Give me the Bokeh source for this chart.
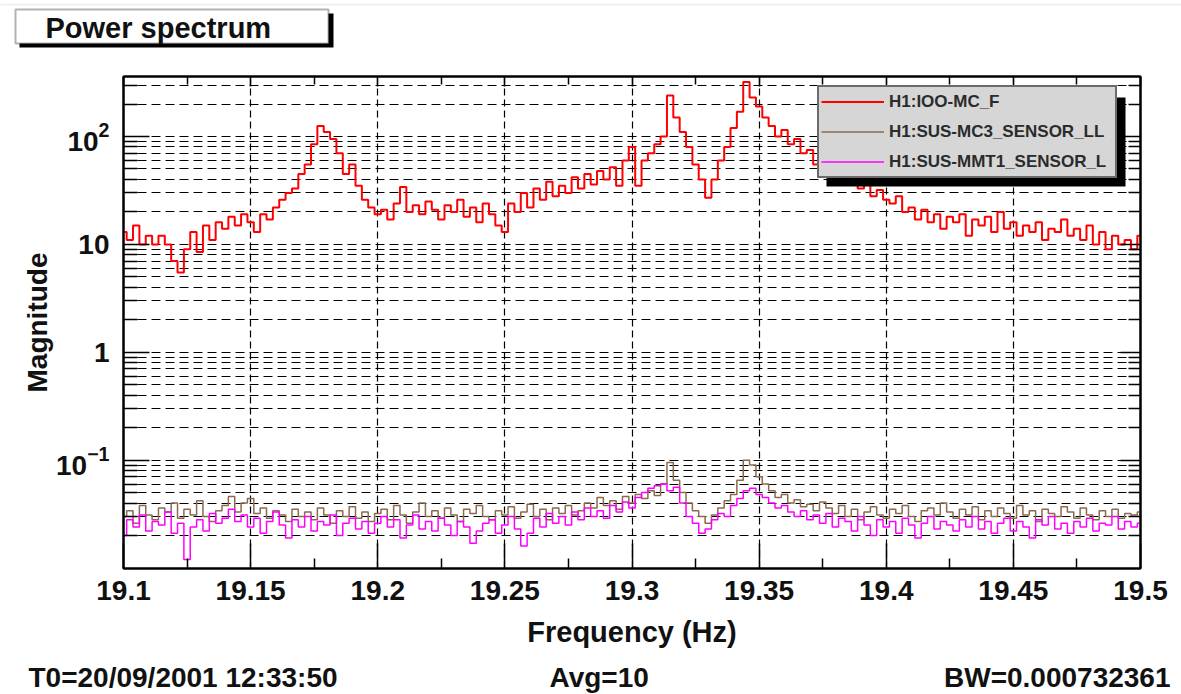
from bokeh.plotting import figure
from bokeh.layouts import column
from bokeh.models import (Range1d, LinearAxis, LogAxis, Label, BoxAnnotation, Legend,
                          LegendItem, FixedTicker, CustomJSTickFormatter, ColumnDataSource,
                          LogTickFormatter)
from bokeh.embed import file_html
from bokeh.resources import INLINE

# ---------------- data ----------------
F_START, F_STEP, N_BINS = 19.1, 0.0025, 161
freq = [round(F_START + F_STEP * i, 4) for i in range(N_BINS)]

red = [
    13, 11, 15, 10, 12, 10, 12, 10, 7, 5.5,
    9, 13, 8.5, 15, 11, 16, 14, 18, 15, 19,
    16, 13, 19, 17, 22, 26, 30, 33, 45, 55,
    85, 125, 110, 95, 70, 45, 55, 35, 26, 22,
    19, 21, 17, 24, 34, 20, 23, 19, 25, 21,
    17, 23, 20, 26, 18, 22, 16, 24, 19, 15,
    13, 24, 20, 30, 22, 33, 26, 38, 28, 35,
    30, 42, 33, 45, 36, 48, 40, 52, 35, 60,
    80, 35, 60, 70, 85, 100, 240, 150, 110, 80,
    55, 40, 27, 40, 60, 80, 120, 170, 320, 230,
    190, 150, 125, 100, 115, 85, 95, 70, 75, 55,
    60, 50, 42, 48, 36, 40, 33, 37, 28, 32,
    26, 24, 28, 20, 22, 17, 21, 16, 19, 14,
    18, 16, 19, 12, 17, 15, 18, 13, 20, 14,
    16, 12, 15, 13, 16, 11, 14, 13, 17, 12,
    14, 11, 15, 10, 13, 9, 12, 10, 11, 9, 12,
]

brown = [
    .030, .034, .026, .038, .031, .028, .036, .033, .040, .029,
    .035, .031, .042, .030, .027, .034, .038, .046, .033, .040,
    .044, .032, .036, .029, .034, .031, .027, .035, .030, .033,
    .028, .036, .031, .026, .034, .030, .037, .029, .033, .027,
    .032, .035, .028, .038, .031, .026, .033, .040, .030, .034,
    .029, .036, .031, .027, .035, .032, .038, .030, .028, .034,
    .031, .037, .029, .033, .039, .030, .035, .028, .036, .032,
    .038, .031, .034, .040, .036, .045, .038, .042, .035, .046,
    .040, .048, .044, .052, .047, .060, .095, .065, .050, .040,
    .034, .030, .026, .031, .036, .042, .048, .065, .100, .090,
    .070, .060, .052, .045, .048, .040, .043, .037, .039, .034,
    .041, .036, .032, .038, .030, .035, .028, .033, .037, .031,
    .029, .035, .032, .038, .030, .027, .034, .036, .031, .040,
    .033, .029, .035, .031, .037, .028, .034, .030, .036, .032,
    .029, .038, .031, .034, .027, .035, .032, .030, .037, .033,
    .029, .036, .031, .028, .034, .030, .035, .029, .032, .031, .033,
]

magenta = [
    .020, .028, .024, .031, .022, .027, .025, .033, .021, .026,
    .012, .024, .028, .022, .032, .026, .029, .035, .027, .031,
    .024, .029, .021, .027, .033, .025, .019, .028, .024, .030,
    .022, .027, .025, .031, .020, .026, .029, .023, .027, .021,
    .026, .030, .024, .028, .019, .025, .031, .023, .027, .022,
    .029, .025, .020, .027, .024, .017, .022, .026, .028, .021,
    .025, .030, .023, .016, .021, .029, .024, .032, .026, .030,
    .025, .033, .028, .036, .030, .034, .029, .038, .033, .041,
    .036, .045, .050, .055, .058, .060, .052, .056, .040, .030,
    .026, .021, .023, .028, .032, .030, .038, .044, .052, .055,
    .048, .045, .040, .036, .038, .033, .030, .034, .028, .031,
    .026, .032, .024, .029, .027, .022, .030, .025, .020, .028,
    .024, .027, .021, .029, .025, .019, .026, .030, .023, .027,
    .025, .022, .028, .024, .030, .023, .027, .021, .026, .029,
    .022, .027, .024, .019, .028, .025, .030, .023, .026, .021,
    .027, .024, .029, .022, .026, .025, .030, .023, .027, .024, .026,
]

SERIES_NAMES = ["H1:IOO-MC_F", "H1:SUS-MC3_SENSOR_LL", "H1:SUS-MMT1_SENSOR_L"]
X_TICKS = [19.1, 19.15, 19.2, 19.25, 19.3, 19.35, 19.4, 19.45, 19.5]
X_TICK_LABELS = ["19.1", "19.15", "19.2", "19.25", "19.3", "19.35", "19.4", "19.45", "19.5"]
Y_TICKS = [0.1, 1, 10, 100]            # 0.1 and 100 are written as 10^-1 and 10^2
Y_PLAIN_TICKS = [1, 10]
Y_PLAIN_LABELS = ["1", "10"]
TITLE = "Power spectrum"
X_TITLE = "Frequency (Hz)"
Y_TITLE = "Magnitude"
FOOTER_LEFT = "T0=20/09/2001 12:33:50"
FOOTER_MID = "Avg=10"
FOOTER_RIGHT = "BW=0.000732361"

# ---------------- layout / style ----------------
FONT = "Liberation Sans"
W, H = 1181, 694
HEAD_H = 52                 # header strip (title box)
FOOT_TOP = 658              # footer strip starts here
FL, FR, FT, FB = 123, 1140, 76, 568     # frame edges in page pixels
X_MIN, X_MAX = 19.1, 19.5
Y_MIN, Y_MAX = 0.0099, 360
C_RED, C_BROWN, C_MAG = "#ff0000", "#8c6a4f", "#ff00ff"
TXT = "#111111"

def canvas_box(fig, l, r, t, b, **kw):
    fig.add_layout(BoxAnnotation(left=l, right=r, top=t, bottom=b,
                                 left_units="canvas", right_units="canvas",
                                 top_units="canvas", bottom_units="canvas", **kw))

def bare_figure(h):
    f = figure(width=W, height=h, x_range=Range1d(0, W), y_range=Range1d(h, 0),
               min_border=0, toolbar_location=None, output_backend="svg",
               x_axis_location=None, y_axis_location=None, title=None,
               frame_align=False)
    f.outline_line_color = None
    f.xgrid.visible = False
    f.ygrid.visible = False
    return f

# ---------------- header ----------------
header = bare_figure(HEAD_H)
canvas_box(header, -20, W + 20, 4, HEAD_H + 20, fill_alpha=0, line_color="#cccccc",
           line_width=2)
canvas_box(header, 19, 333, 13, 47, fill_color="black", fill_alpha=1, line_color=None)
canvas_box(header, 15, 328, 9, 43, fill_color="white", fill_alpha=1,
           line_color="black", line_width=2)
header.add_layout(Label(x=45, y=27, x_units="canvas", y_units="canvas", text=TITLE,
                        text_font=FONT, text_font_style="bold", text_font_size="29px",
                        text_baseline="middle", text_color=TXT))

# ---------------- main plot ----------------
MAIN_H = FOOT_TOP - HEAD_H
p = figure(width=W, height=MAIN_H, output_backend="svg", toolbar_location=None, title=None,
           x_range=Range1d(X_MIN, X_MAX), y_range=Range1d(Y_MIN, Y_MAX), y_axis_type="log",
           min_border_left=FL, min_border_right=W - FR, min_border_top=FT - HEAD_H,
           min_border_bottom=FOOT_TOP - FB, background_fill_color="white",
           border_fill_color="white", frame_align=False)
p.outline_line_color = "black"
p.outline_line_width = 2

x_minor = [round((a + b) / 2, 4) for a, b in zip(X_TICKS[:-1], X_TICKS[1:])]
y_minor = [m * 10.0 ** e for e in range(-2, 3) for m in range(2, 10)
           if Y_MIN < m * 10.0 ** e < Y_MAX]
xticker = FixedTicker(ticks=X_TICKS, minor_ticks=x_minor)
yticker = FixedTicker(ticks=Y_TICKS, minor_ticks=y_minor)

def style_axis(ax, major_in, minor_in):
    ax.axis_line_color = "black"
    ax.axis_line_width = 2
    ax.major_tick_line_color = "black"
    ax.minor_tick_line_color = "black"
    ax.major_tick_line_width = 1.5
    ax.minor_tick_line_width = 1.5
    ax.major_tick_in = major_in
    ax.major_tick_out = 0
    ax.minor_tick_in = minor_in
    ax.minor_tick_out = 0
    ax.major_label_text_font = FONT
    ax.major_label_text_font_style = "bold"
    ax.major_label_text_color = TXT
    ax.axis_label_text_font = FONT
    ax.axis_label_text_font_style = "bold"
    ax.axis_label_text_color = TXT

xa = p.xaxis[0]
xa.ticker = xticker
xa.major_label_overrides = dict(zip(X_TICKS, X_TICK_LABELS))
style_axis(xa, 25, 10)
xa.major_label_text_font_size = "28px"
xa.major_label_standoff = 12
xa.axis_label = X_TITLE
xa.axis_label_text_font_size = "29px"
xa.axis_label_standoff = 13

ya = p.yaxis[0]
ya.ticker = yticker
ya.formatter = LogTickFormatter(min_exponent=0)
ya.major_label_overrides = dict(zip(Y_PLAIN_TICKS, Y_PLAIN_LABELS))
style_axis(ya, 26, 14)
ya.major_label_text_font_size = "28px"
ya.major_label_standoff = 14
ya.axis_label = Y_TITLE
ya.axis_label_text_font_size = "28px"
ya.axis_label_standoff = 0

top_ax = LinearAxis(ticker=xticker, formatter=CustomJSTickFormatter(code="return ''"))
style_axis(top_ax, 10, 8)
top_ax.major_label_text_color = None
p.add_layout(top_ax, "above")
right_ax = LogAxis(ticker=yticker, formatter=CustomJSTickFormatter(code="return ''"))
style_axis(right_ax, 20, 12)
right_ax.major_label_text_color = None
p.add_layout(right_ax, "right")

p.xgrid.ticker = xticker
p.xgrid.grid_line_color = "black"
p.xgrid.grid_line_dash = "7 4"
p.xgrid.grid_line_width = 1.2
p.ygrid.ticker = yticker
p.ygrid.grid_line_color = "black"
p.ygrid.grid_line_dash = "9 5"
p.ygrid.grid_line_width = 1.2
p.ygrid.minor_grid_line_color = "black"
p.ygrid.minor_grid_line_dash = "9 5"
p.ygrid.minor_grid_line_width = 1.2

src = ColumnDataSource(dict(freq=freq, red=red, brown=brown, magenta=magenta))
r_red = p.step("freq", "red", source=src, mode="center", line_color=C_RED, line_width=2)
r_brown = p.step("freq", "brown", source=src, mode="center", line_color=C_BROWN, line_width=1.5)
r_mag = p.step("freq", "magenta", source=src, mode="center", line_color=C_MAG, line_width=1.5)

# legend shadow + legend
canvas_box(p, 826, 1125, 97 - HEAD_H, 186 - HEAD_H, fill_color="black", fill_alpha=1,
           line_color=None)
legend = Legend(items=[LegendItem(label=SERIES_NAMES[0], renderers=[r_red]),
                       LegendItem(label=SERIES_NAMES[1], renderers=[r_brown]),
                       LegendItem(label=SERIES_NAMES[2], renderers=[r_mag])],
                location=(817 - FL, FB - 178), orientation="vertical",
                background_fill_color="#d6d6d6", background_fill_alpha=1.0,
                border_line_color="black", border_line_width=2,
                label_text_font=FONT, label_text_font_style="bold",
                label_text_font_size="17px", label_text_color="#2b2b2b",
                glyph_width=63, glyph_height=25, label_height=25, label_width=224,
                label_standoff=5, spacing=5, padding=2, margin=0)
p.add_layout(legend)

# ---------------- footer ----------------
footer = bare_figure(H - FOOT_TOP)
for txt, xx, al in [(FOOTER_LEFT, 28, "left"), (FOOTER_MID, 549, "left"),
                    (FOOTER_RIGHT, 1170, "right")]:
    footer.add_layout(Label(x=xx, y=677 - FOOT_TOP, x_units="canvas", y_units="canvas",
                            text=txt, text_font=FONT, text_font_style="bold",
                            text_font_size="28px", text_baseline="middle", text_align=al,
                            text_color=TXT))

page = column(header, p, footer, spacing=0)
open("out.html", "w").write(file_html(page, INLINE))
